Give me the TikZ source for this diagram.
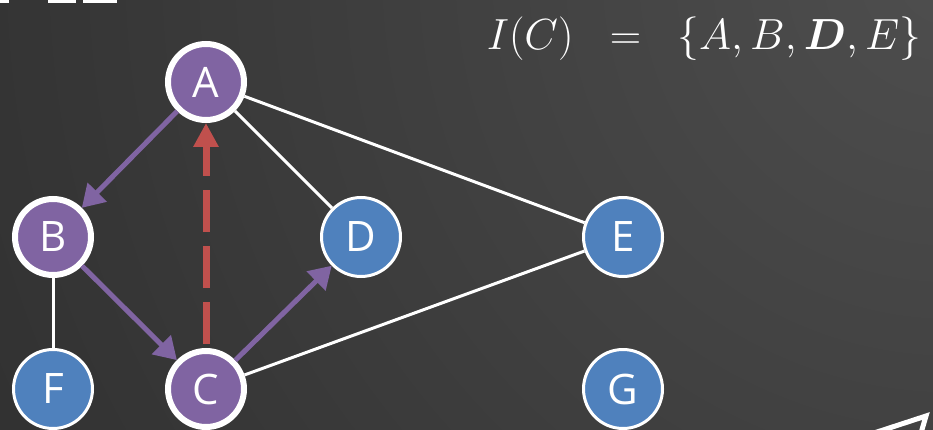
\documentclass[tikz,border=0pt]{standalone}
\usepackage{amsmath}
\usepackage{fontspec}
\usetikzlibrary{arrows.meta}
\newfontfamily\nodefont{Open Sans}
\definecolor{purp}{HTML}{8064A2}
\definecolor{blu}{HTML}{4F81BD}
\definecolor{redc}{HTML}{C0504D}
\definecolor{bgA}{HTML}{4E4E4E}
\definecolor{bgB}{HTML}{363636}
\definecolor{bgC}{HTML}{1C1C1C}
\pgfdeclareradialshading{bgshade}{\pgfpoint{0bp}{0bp}}{color(0bp)=(bgA); color(20bp)=(bgB); color(45bp)=(bgC); color(50bp)=(bgC)}
\tikzset{
  pnode/.style={circle, fill=purp, draw=white, line width=6pt, minimum size=76pt, inner sep=0pt, text=white, font=\nodefont\fontsize{42}{42}\selectfont},
  bnode/.style={circle, fill=blu, draw=white, line width=3pt, minimum size=79pt, inner sep=0pt, text=white, font=\nodefont\fontsize{42}{42}\selectfont},
  wline/.style={draw=white, line width=3pt},
  parrow/.style={draw=purp, line width=5pt, -{Triangle[length=22pt,width=26pt]}},
  rarrow/.style={draw=redc, line width=7pt, dash pattern=on 42pt off 14pt, dash phase=52pt, -{Triangle[length=24pt,width=24pt]}}
}
\begin{document}
\begin{tikzpicture}[x=1pt,y=-1pt]
\useasboundingbox (0,0) rectangle (933,430);
\begin{scope}
\clip (0,0) rectangle (933,430);
\shade[shading=bgshade] (950,-30) circle (1100);
\end{scope}
% cut-off text remnants at top left
\fill[white] (0,0) rectangle (9,3);
\fill[white] (48,0) rectangle (76,3);
\fill[white] (83,0) rectangle (117,3);
% partial shape at bottom right
\draw[white, line width=5pt, line join=miter] (874,433) -- (926,416) -- (921,433);
% title
\node[text=white, font=\Huge, scale=1.75] (title) at (704,39) {$I(C)\;\;=\;\;\{A,B,\boldsymbol{D},E\}$};
% nodes
\node[pnode] (A) at (206,82) {A};
\node[pnode] (B) at (53,237) {B};
\node[bnode] (D) at (361,237) {D};
\node[bnode] (E) at (623,237) {E};
\node[bnode] (F) at (53,389) {F};
\node[pnode] (C) at (206,389) {C};
\node[bnode] (G) at (623,389) {G};
% edges
\draw[wline] (A) -- (D);
\draw[wline] (A) -- (E);
\draw[wline] (B) -- (F);
\draw[wline] (C) -- (E);
\draw[parrow] (A) -- (B);
\draw[parrow] (B) -- (C);
\draw[parrow] (C) -- (D);
\draw[rarrow] (C) -- (A);
\end{tikzpicture}
\end{document}
